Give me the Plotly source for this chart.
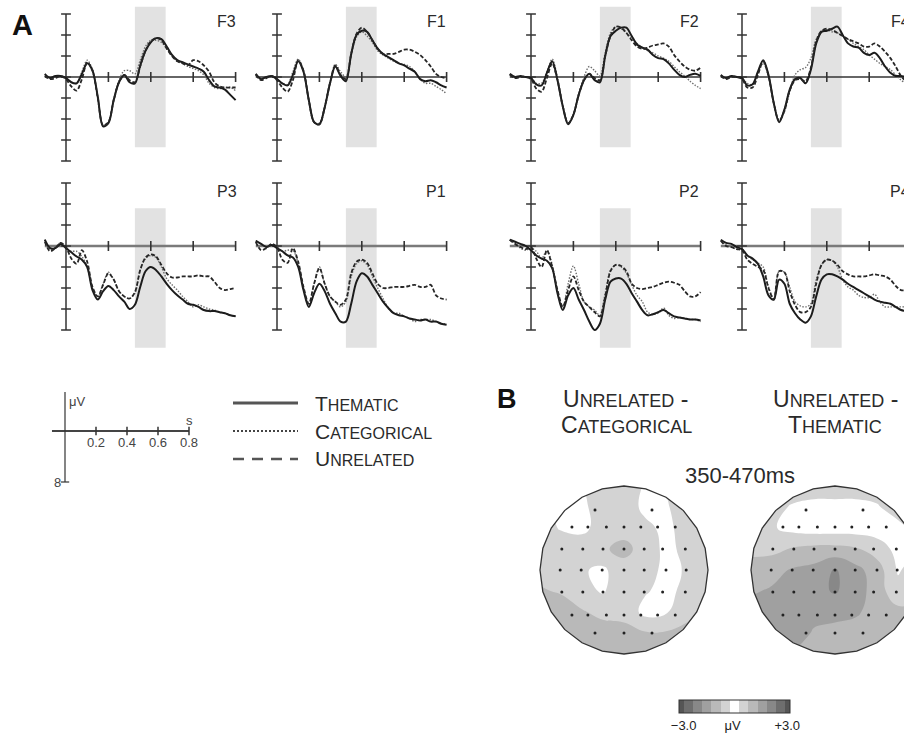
import numpy as np
import plotly.graph_objects as go

W, H = 904, 741
FONT = "Liberation Sans, Arial, Helvetica, sans-serif"

# ---------------- data ----------------
TIME_S = [-0.1, -0.075, -0.05, -0.025, 0.0, 0.025, 0.05, 0.075, 0.1, 0.125, 0.15, 0.175,
          0.2, 0.225, 0.25, 0.275, 0.3, 0.325, 0.35, 0.375, 0.4, 0.425, 0.45, 0.475, 0.5,
          0.525, 0.55, 0.575, 0.6, 0.625, 0.65, 0.675, 0.7, 0.725, 0.75, 0.775, 0.8]

# amplitudes in microvolts (negative plotted upward)
F3_THEMATIC = [-0.3,0.1,-0.1,-0.1,0.1,0.5,0.6,-0.3,-1.3,-0.6,1.9,4.7,4.4,2.2,0.5,-0.2,0.5,0.6,-1.1,-2.5,-3.3,-3.7,-3.6,-2.9,-2.1,-1.6,-1.4,-1.2,-1.0,-0.8,-0.5,0.3,0.9,1.0,1.2,1.7,2.2]
F3_CATEGORICAL = [-0.2,0.1,-0.1,-0.1,0.1,0.5,0.6,-0.5,-1.6,-0.7,1.9,4.6,4.3,2.2,0.3,-0.6,-0.6,-0.3,-1.6,-2.9,-3.5,-3.5,-3.3,-2.7,-2.0,-1.5,-1.3,-1.0,-0.8,-0.6,-0.2,0.6,1.0,1.1,1.0,1.0,1.3]
F3_UNRELATED = [-0.1,0.2,0.1,-0.1,0.2,0.9,1.3,0.2,-1.4,-0.6,2.0,4.6,4.3,2.2,0.5,-0.2,0.3,0.5,-1.0,-2.5,-3.4,-3.7,-3.5,-2.7,-2.0,-1.5,-1.3,-1.1,-1.6,-1.5,-1.1,-0.5,0.5,0.9,1.0,1.0,1.0]

F1_THEMATIC = [-0.3,0.2,0.0,-0.1,0.2,0.6,0.8,-0.2,-1.5,-0.5,2.2,4.3,4.5,2.9,0.6,-1.0,-0.1,0.4,-2.2,-4.0,-4.4,-4.3,-3.5,-2.7,-2.2,-1.9,-1.6,-1.3,-1.1,-0.8,-0.5,0.2,0.4,0.3,0.5,0.8,1.0]
F1_CATEGORICAL = [-0.3,0.2,0.0,-0.1,0.2,0.6,0.7,-0.5,-1.7,-0.6,2.2,4.3,4.4,2.8,0.5,-1.2,-0.5,0.0,-2.1,-3.8,-4.3,-3.9,-3.3,-2.5,-2.1,-1.8,-1.5,-1.3,-1.2,-1.0,-0.5,0.2,0.6,0.6,0.9,1.2,1.6]
F1_UNRELATED = [-0.2,0.3,0.1,-0.1,0.3,1.0,1.4,0.3,-1.6,-0.6,2.2,4.3,4.5,2.9,0.6,-1.1,-0.2,0.2,-2.2,-4.1,-4.7,-4.3,-3.5,-2.7,-2.2,-2.2,-2.2,-2.4,-2.6,-2.6,-2.4,-2.1,-1.6,-1.0,-0.3,0.0,0.1]

F2_THEMATIC = [-0.3,0.0,-0.1,0.0,0.1,0.7,0.8,-0.4,-1.5,0.3,2.8,4.5,3.6,1.7,0.3,-0.3,0.3,0.5,-2.0,-3.9,-4.4,-4.7,-4.7,-3.9,-3.1,-2.8,-2.6,-2.1,-1.8,-1.7,-1.3,-0.7,-0.2,0.0,-0.2,-0.3,-0.1]
F2_CATEGORICAL = [-0.3,0.1,-0.1,0.0,0.1,0.6,0.6,-0.5,-1.7,0.1,2.7,4.4,3.5,1.6,0.0,-1.0,-0.6,-0.1,-2.3,-4.2,-4.8,-4.6,-4.2,-3.7,-3.2,-2.8,-2.5,-2.3,-2.0,-1.8,-1.5,-1.0,-0.5,-0.1,0.4,0.8,1.1]
F2_UNRELATED = [-0.2,0.1,0.0,0.0,0.2,1.1,1.4,0.1,-1.3,0.3,2.8,4.4,3.6,1.7,0.3,-0.3,0.1,0.3,-2.0,-3.9,-4.8,-4.7,-4.2,-3.5,-2.9,-2.7,-2.8,-3.0,-3.1,-3.2,-2.9,-2.1,-1.5,-1.0,-0.7,-0.6,-0.9]

F4_THEMATIC = [-0.2,0.1,-0.1,0.0,0.1,0.8,0.7,-0.5,-1.6,-0.2,2.5,4.3,3.1,1.2,0.2,0.1,0.6,-0.7,-3.2,-4.3,-4.4,-4.6,-4.8,-4.0,-3.2,-2.9,-2.8,-2.3,-2.1,-2.3,-1.8,-1.0,-0.4,-0.1,-0.1,0.0,0.0]
F4_CATEGORICAL = [-0.2,0.1,-0.1,0.0,0.1,0.6,0.7,-0.4,-1.3,-0.1,2.5,4.1,3.3,1.4,-0.2,-0.7,-0.9,-1.8,-3.6,-4.3,-4.5,-4.3,-4.2,-3.9,-3.6,-3.2,-2.9,-2.6,-2.1,-1.7,-1.3,-1.0,-0.7,-0.2,0.3,0.6,0.7]
F4_UNRELATED = [-0.1,0.2,0.0,0.0,0.2,1.0,1.0,-0.2,-1.5,-0.1,2.5,4.2,3.2,1.3,0.3,0.2,0.4,-0.9,-3.4,-4.4,-4.6,-4.5,-4.2,-3.9,-3.6,-3.4,-3.2,-2.9,-2.9,-3.2,-2.9,-2.4,-1.8,-1.0,-0.1,0.4,0.6]

P3_THEMATIC = [-0.6,0.2,0.2,-0.2,0.2,0.6,1.0,1.3,2.0,4.2,5.1,4.3,3.8,4.2,4.8,5.3,6.0,5.6,3.9,2.4,2.0,2.3,2.9,3.6,4.2,4.7,5.1,5.5,5.6,5.8,6.1,6.2,6.2,6.3,6.4,6.6,6.7]
P3_CATEGORICAL = [-0.6,0.3,0.1,-0.3,0.2,0.5,0.5,1.0,2.0,4.0,4.8,3.6,2.5,3.2,4.3,4.8,5.0,4.5,2.3,1.2,0.9,1.1,2.0,3.1,3.7,4.2,4.8,5.3,5.8,5.6,5.8,6.0,6.1,6.3,6.4,6.6,6.7]
P3_UNRELATED = [-0.4,0.5,0.2,-0.3,0.1,1.2,1.7,0.4,1.5,3.9,4.8,3.7,2.6,3.2,4.3,4.8,5.0,4.4,2.3,1.1,0.8,1.0,1.8,2.6,3.0,3.0,2.9,2.9,2.9,2.8,2.9,2.9,3.4,4.0,4.2,4.1,4.0]

P1_THEMATIC = [-0.5,-0.2,0.1,-0.1,0.2,0.5,0.9,1.1,2.0,4.2,5.8,4.5,3.6,4.3,5.5,6.4,7.2,7.2,5.5,3.4,2.6,2.9,3.7,4.5,5.3,5.9,6.4,6.6,6.7,6.9,7.0,7.1,7.0,7.2,7.2,7.4,7.5]
P1_CATEGORICAL = [-0.5,-0.2,0.1,-0.1,0.1,0.5,0.4,0.4,1.7,4.0,5.6,3.6,2.0,3.6,4.8,5.3,5.8,5.3,2.9,1.7,1.4,1.8,2.9,4.0,5.0,5.9,6.4,6.4,6.7,6.9,7.2,7.0,7.0,7.0,7.2,7.4,7.4]
P1_UNRELATED = [-0.4,0.4,0.2,-0.2,0.1,1.3,1.6,0.2,1.5,3.9,5.5,3.6,2.1,3.6,4.8,5.3,5.6,5.1,2.6,1.5,1.3,1.6,2.6,3.6,4.0,4.0,3.9,3.9,3.9,3.8,3.7,3.9,3.9,3.7,4.7,5.0,5.1]

P2_THEMATIC = [-0.6,-0.4,-0.2,0.0,0.4,0.9,1.2,1.4,2.1,4.5,6.1,4.7,4.0,5.1,6.1,7.2,8.0,7.4,5.1,3.4,3.1,3.1,3.6,4.5,5.3,6.1,6.6,6.5,6.3,6.1,6.4,6.7,6.8,6.9,7.0,7.0,7.1]
P2_CATEGORICAL = [-0.6,-0.3,0.2,0.4,0.2,0.5,1.2,0.4,1.8,4.3,5.9,3.6,1.9,3.6,5.3,5.8,6.1,6.6,4.5,2.3,1.8,2.0,2.6,3.7,4.7,5.3,6.3,6.5,6.4,5.9,6.6,6.9,6.8,6.9,7.0,7.0,7.2]
P2_UNRELATED = [-0.6,-0.2,0.1,0.3,0.1,1.2,2.0,0.4,2.0,4.2,5.8,4.2,2.9,4.2,5.3,5.8,6.3,6.7,4.8,2.4,1.8,1.9,2.4,3.6,4.0,4.1,4.0,3.9,3.7,3.5,3.4,3.5,3.7,4.3,4.8,4.8,4.4]

P4_THEMATIC = [-0.6,-0.3,-0.2,0.1,0.3,0.9,1.2,1.7,2.9,4.7,5.1,3.2,3.6,5.5,6.4,7.0,7.3,6.7,4.8,3.2,2.7,2.7,2.9,3.2,3.6,3.9,4.2,4.5,4.8,5.1,5.3,5.4,5.5,5.8,6.1,6.2,6.2]
P4_CATEGORICAL = [-0.5,-0.1,0.1,0.3,0.3,0.9,1.3,1.6,2.0,3.9,5.0,2.4,2.5,3.9,5.3,5.7,5.8,5.5,3.2,1.8,1.3,1.4,2.0,3.2,3.9,4.2,4.7,4.9,4.9,4.6,5.3,5.8,5.8,5.8,5.8,5.8,5.8]
P4_UNRELATED = [-0.5,0.0,0.1,0.3,0.4,1.3,1.7,2.0,2.3,4.0,5.1,2.4,2.5,4.3,5.6,6.3,6.3,5.8,3.6,1.8,1.3,1.4,1.8,2.4,2.7,2.9,2.9,2.9,2.8,2.7,2.8,2.9,3.2,3.8,4.2,4.2,4.2]

ELECTRODES = ["F3", "F1", "F2", "F4", "P3", "P1", "P2", "P4"]
CONDITIONS = ["Thematic", "Categorical", "Unrelated"]
X_TICKS = [0.2, 0.4, 0.6, 0.8]
Y_TICKS = [-6, -4, -2, 0, 2, 4, 6, 8]
BAND_S = [0.325, 0.47]          # analysis window shown as grey band
BAND_UV_FRONT = [-6.7, 6.7]
BAND_UV_POST = [-3.6, 9.7]

SCALE_T_TICKS = [0.2, 0.4, 0.6, 0.8]
SCALE_T_LABELS = ["0.2", "0.4", "0.6", "0.8"]
SCALE_T_START = -0.084
SCALE_UV_TOP = -6.1
SCALE_UV_BOTTOM = 8

# topographic maps: difference values (µV) on a 9x9 grid, rows top (front) -> bottom (back)
MAP_GRID = [-1.0, -0.75, -0.5, -0.25, 0.0, 0.25, 0.5, 0.75, 1.0]
MAP_UNREL_MINUS_CATEG = [
    [-0.5, -0.4, -0.3, -0.4, -0.6, -0.2, -0.3, -0.5, -0.6],
    [-0.4, -0.2, -0.1, -0.6, -0.6, -0.1, -0.2, -0.5, -0.6],
    [-0.5, -0.2, -0.1, -0.5, -0.6, -0.4, -0.1, -0.5, -0.6],
    [-0.6, -0.6, -0.6, -0.7, -0.86, -0.6, -0.1, -0.4, -0.6],
    [-0.6, -0.6, -0.3, -0.15, -0.6, -0.5, -0.1, -0.3, -0.5],
    [-0.8, -0.7, -0.4, -0.2, -0.6, -0.3, -0.1, -0.4, -0.6],
    [-1.0, -1.0, -0.8, -0.6, -0.6, -0.1, -0.2, -0.6, -0.8],
    [-1.1, -1.1, -1.1, -1.0, -0.9, -0.8, -0.8, -0.9, -0.9],
    [-1.1, -1.1, -1.1, -1.1, -1.0, -1.0, -1.0, -1.0, -1.0],
]
MAP_UNREL_MINUS_THEM = [
    [-0.5, -0.5, -0.5, -0.5, -0.5, -0.5, -0.5, -0.6, -0.6],
    [-0.5, -0.4, -0.2, -0.1, -0.1, -0.1, -0.2, -0.5, -0.7],
    [-0.6, -0.3, -0.1, 0.0, 0.0, 0.0, 0.0, -0.1, -0.5],
    [-0.6, -0.6, -0.8, -0.9, -0.9, -0.8, -0.5, -0.1, -0.3],
    [-1.0, -1.1, -1.3, -1.4, -1.8, -1.4, -1.0, -0.2, -0.5],
    [-1.2, -1.3, -1.4, -1.6, -1.8, -1.5, -1.0, -0.4, -0.6],
    [-1.4, -1.6, -1.6, -1.4, -1.4, -1.3, -1.1, -0.9, -0.9],
    [-1.3, -1.5, -1.5, -1.2, -1.1, -1.1, -1.0, -0.9, -0.9],
    [-1.2, -1.3, -1.2, -1.1, -1.0, -1.0, -1.0, -0.9, -0.9],
]
ELEC_X = [-0.345, 0.333,
          -0.62, -0.43, -0.21, 0.0, 0.2, 0.4, 0.61,
          -0.74, -0.49, -0.25, 0.0, 0.24, 0.46, 0.73,
          -0.76, -0.51, -0.26, 0.0, 0.24, 0.5, 0.74,
          -0.74, -0.49, -0.25, 0.0, 0.24, 0.46, 0.73,
          -0.62, -0.43, -0.21, 0.0, 0.2, 0.4, 0.61,
          -0.345, 0.0, 0.333]
ELEC_Y = [0.714] * 2 + [0.512] * 7 + [0.25] * 7 + [0.0] * 7 + [-0.262] * 7 + [-0.536] * 7 + [-0.75] * 3
CBAR_TICKVALS = [-2.75, -0.1, 2.85]
CBAR_TICKTEXT = ["\u22123.0", "\u03bcV", "+3.0"]
MAP_TITLES = [("Unrelated -", "Categorical"), ("Unrelated -", "Thematic")]
WINDOW_LABEL = "350-470ms"

ERP = {
    "F3": (F3_THEMATIC, F3_CATEGORICAL, F3_UNRELATED),
    "F1": (F1_THEMATIC, F1_CATEGORICAL, F1_UNRELATED),
    "F2": (F2_THEMATIC, F2_CATEGORICAL, F2_UNRELATED),
    "F4": (F4_THEMATIC, F4_CATEGORICAL, F4_UNRELATED),
    "P3": (P3_THEMATIC, P3_CATEGORICAL, P3_UNRELATED),
    "P1": (P1_THEMATIC, P1_CATEGORICAL, P1_UNRELATED),
    "P2": (P2_THEMATIC, P2_CATEGORICAL, P2_UNRELATED),
    "P4": (P4_THEMATIC, P4_CATEGORICAL, P4_UNRELATED),
}

# ---------------- styling / layout geometry ----------------
STYLE = {
    "Thematic": dict(color="#1c1c1c", width=2.0, dash="solid"),
    "Categorical": dict(color="#6e6e6e", width=1.4, dash="1.5px,1.5px"),
    "Unrelated": dict(color="#262626", width=1.8, dash="4px,2px"),
}
DRAW_ORDER = ["Categorical", "Thematic", "Unrelated"]
LEGEND_KEY = {
    "Thematic": dict(color="#555", width=3, dash="solid"),
    "Categorical": dict(color="#444", width=2, dash="2px,2px"),
    "Unrelated": dict(color="#555", width=2.5, dash="11px,8px"),
}

COL_ZERO_PX = [66, 277, 531, 742]
ROW_ZERO_PX = [77, 246]
ROW_DOM_PX = [(3, 168), (172, 352)]
PX_PER_S = 212.0
PX_PER_UV = 10.5


def fx(px):
    return px / W


def fy(py):
    return 1 - py / H


fig = go.Figure()
layout_axes = {}
shapes = []
annotations = []


def add_axes(n, xdom_px, ydom_px, xr, yr):
    kx = "xaxis" if n == 1 else f"xaxis{n}"
    ky = "yaxis" if n == 1 else f"yaxis{n}"
    xa = "x" if n == 1 else f"x{n}"
    ya = "y" if n == 1 else f"y{n}"
    layout_axes[kx] = dict(domain=[fx(xdom_px[0]), fx(xdom_px[1])], range=xr, visible=False,
                           anchor=ya, fixedrange=True)
    layout_axes[ky] = dict(domain=[fy(ydom_px[1]), fy(ydom_px[0])], range=yr, visible=False,
                           anchor=xa, fixedrange=True)
    return xa, ya


def ann(text, xpx, ypx, size, bold=False, color="#2a2a2a", xanchor="center", yanchor="middle"):
    annotations.append(dict(text=f"<b>{text}</b>" if bold else text, x=fx(xpx), y=fy(ypx),
                            xref="paper", yref="paper", xanchor=xanchor, yanchor=yanchor,
                            showarrow=False, font=dict(family=FONT, size=size, color=color)))


def smallcaps(word, small):
    word = word.upper()
    return word[0] + f"<span style='font-size:{small}px'>{word[1:]}</span>"


# ---------------- ERP panels ----------------
for i, name in enumerate(ELECTRODES):
    r, c = divmod(i, 4)
    zx = COL_ZERO_PX[c]
    zy = ROW_ZERO_PX[r]
    x0p = zx - 0.125 * PX_PER_S
    x1p = min(W, zx + 0.825 * PX_PER_S)
    top, bot = ROW_DOM_PX[r]
    xr = [(x0p - zx) / PX_PER_S, (x1p - zx) / PX_PER_S]
    yr = [(bot - zy) / PX_PER_UV, (top - zy) / PX_PER_UV]
    xa, ya = add_axes(i + 1, (x0p, x1p), (top, bot), xr, yr)

    band = BAND_UV_FRONT if r == 0 else BAND_UV_POST
    shapes.append(dict(type="rect", xref=xa, yref=ya, x0=BAND_S[0], x1=BAND_S[1],
                       y0=band[0], y1=band[1], fillcolor="#e2e2e2", line=dict(width=0),
                       layer="below"))

    xcol = "#333" if r == 0 else "#7a7a7a"
    xw = 1.6 if r == 0 else 2.6
    common = dict(xaxis=xa, yaxis=ya, showlegend=False, hoverinfo="skip")
    fig.add_trace(go.Scatter(x=[TIME_S[0], TIME_S[-1]], y=[0, 0], mode="lines",
                             line=dict(color=xcol, width=xw), **common))
    fig.add_trace(go.Scatter(x=X_TICKS, y=[0] * len(X_TICKS), mode="markers",
                             marker=dict(symbol="line-ns", size=7,
                                         line=dict(color="#333", width=1.6)), **common))
    fig.add_trace(go.Scatter(x=[0, 0], y=[Y_TICKS[0], Y_TICKS[-1]], mode="lines",
                             line=dict(color="#333", width=1.5), **common))
    fig.add_trace(go.Scatter(x=[0] * len(Y_TICKS), y=Y_TICKS, mode="markers",
                             marker=dict(symbol="line-ew", size=7,
                                         line=dict(color="#333", width=1.5)), **common))

    series = dict(zip(CONDITIONS, ERP[name]))
    for cond in DRAW_ORDER:
        st = STYLE[cond]
        fig.add_trace(go.Scatter(x=TIME_S, y=series[cond], mode="lines", name=cond,
                                 line=dict(color=st["color"], width=st["width"],
                                           dash=st["dash"], shape="spline", smoothing=0.9),
                                 **common))

    label_x = [227, 436, 689, 900][c]
    label_y = [22, 191][r]
    ann(name, label_x, label_y, 16, color="#2a2a2a")

ann("A", 22, 25, 29, bold=True, color="#111")

# ---------------- scale legend (axes key) ----------------
S_ZX, S_ZY, S_PPS, S_PPUV = 65, 431, 155.0, 6.375
sx0, sx1, sy0, sy1 = 45, 200, 385, 490
xa, ya = add_axes(9, (sx0, sx1), (sy0, sy1),
                  [(sx0 - S_ZX) / S_PPS, (sx1 - S_ZX) / S_PPS],
                  [(sy1 - S_ZY) / S_PPUV, (sy0 - S_ZY) / S_PPUV])
common = dict(xaxis=xa, yaxis=ya, showlegend=False, hoverinfo="skip")
fig.add_trace(go.Scatter(x=[SCALE_T_START, SCALE_T_TICKS[-1]], y=[0, 0], mode="lines",
                         line=dict(color="#444", width=2.2), **common))
fig.add_trace(go.Scatter(x=SCALE_T_TICKS, y=[0] * len(SCALE_T_TICKS), mode="markers",
                         marker=dict(symbol="line-ns", size=6, line=dict(color="#333", width=1.5)),
                         **common))
fig.add_trace(go.Scatter(x=[0, 0], y=[SCALE_UV_TOP, SCALE_UV_BOTTOM], mode="lines",
                         line=dict(color="#333", width=1.2), **common))
fig.add_trace(go.Scatter(x=[0], y=[SCALE_UV_BOTTOM], mode="markers",
                         marker=dict(symbol="line-ew", size=6, line=dict(color="#333", width=1.2)),
                         **common))
for t, lab in zip(SCALE_T_TICKS, SCALE_T_LABELS):
    annotations.append(dict(text=lab, x=t, y=0, xref=xa, yref=ya, xanchor="center",
                            yanchor="top", yshift=-2, showarrow=False,
                            font=dict(family=FONT, size=13, color="#444")))
annotations.append(dict(text="s", x=SCALE_T_TICKS[-1], y=0, xref=xa, yref=ya, xanchor="center",
                        yanchor="bottom", yshift=1, showarrow=False,
                        font=dict(family=FONT, size=13, color="#444")))
annotations.append(dict(text="\u03bcV", x=0, y=SCALE_UV_TOP, xref=xa, yref=ya, xanchor="left",
                        yanchor="top", xshift=2, showarrow=False,
                        font=dict(family=FONT, size=13, color="#444")))
annotations.append(dict(text=str(SCALE_UV_BOTTOM), x=0, y=SCALE_UV_BOTTOM, xref=xa, yref=ya,
                        xanchor="right", yanchor="middle", xshift=-2, showarrow=False,
                        font=dict(family=FONT, size=13, color="#444")))

# ---------------- line legend ----------------
for k, cond in enumerate(CONDITIONS):
    ypx = [403, 431, 459][k]
    ks = LEGEND_KEY[cond]
    shapes.append(dict(type="line", xref="paper", yref="paper", x0=fx(233), x1=fx(298),
                       y0=fy(ypx), y1=fy(ypx),
                       line=dict(color=ks["color"], width=ks["width"], dash=ks["dash"])))
    ann(smallcaps(cond, 16), 313, ypx, 21, xanchor="left", color="#2a2a2a")

# ---------------- topographic maps ----------------
TOPO_SCALE = [
    [0.0, "#555555"], [1 / 12, "#6e6e6e"], [2 / 12, "#888888"], [3 / 12, "#a0a0a0"],
    [4 / 12, "#b9b9b9"], [5 / 12, "#d3d3d3"], [6 / 12, "#ffffff"], [7 / 12, "#d3d3d3"],
    [8 / 12, "#b9b9b9"], [9 / 12, "#a0a0a0"], [10 / 12, "#888888"], [11 / 12, "#6e6e6e"],
    [1.0, "#555555"],
]
R_PX = 84.0
PAD = 89.0
ang = np.linspace(0, 2 * np.pi, 24, endpoint=False) + np.pi / 2
poly = [(float(np.cos(a)), float(np.sin(a))) for a in ang]
poly_path = "M " + " L ".join(f"{x:.4f},{y:.4f}" for x, y in poly) + " Z"
mask_path = "M -4,-4 L -4,4 L 4,4 L 4,-4 Z " + poly_path

for m, (center_x, zvals) in enumerate([(624, MAP_UNREL_MINUS_CATEG), (835, MAP_UNREL_MINUS_THEM)]):
    cy = 570
    x0p = center_x - PAD
    x1p = min(W, center_x + PAD)
    xa, ya = add_axes(10 + m, (x0p, x1p), (cy - PAD, cy + PAD),
                      [(x0p - center_x) / R_PX, (x1p - center_x) / R_PX],
                      [-PAD / R_PX, PAD / R_PX])
    cb = dict(orientation="h", x=fx(734.5), xanchor="center", y=fy(700), yanchor="top",
              ypad=0, xpad=0, len=111, lenmode="pixels", thickness=13,
              thicknessmode="pixels", outlinecolor="#333", outlinewidth=1,
              tickmode="array", tickvals=CBAR_TICKVALS, ticktext=CBAR_TICKTEXT, ticks="",
              tickfont=dict(family=FONT, size=13, color="#222"))
    fig.add_trace(go.Contour(x=MAP_GRID, y=MAP_GRID, z=zvals[::-1], xaxis=xa, yaxis=ya,
                             colorscale=TOPO_SCALE, autocontour=False,
                             contours=dict(start=-2.75, end=2.75, size=0.5, coloring="fill",
                                           showlines=False),
                             line=dict(width=0, smoothing=1.3),
                             showscale=(m == 0), colorbar=cb if m == 0 else None,
                             hoverinfo="skip"))
    fig.add_trace(go.Scatter(x=ELEC_X, y=ELEC_Y, mode="markers",
                             marker=dict(size=3, color="#222"), xaxis=xa, yaxis=ya,
                             showlegend=False, hoverinfo="skip"))
    shapes.append(dict(type="path", xref=xa, yref=ya, path=mask_path, fillcolor="white",
                       line=dict(width=0), layer="above"))
    shapes.append(dict(type="path", xref=xa, yref=ya, path=poly_path,
                       fillcolor="rgba(0,0,0,0)", line=dict(color="#333", width=1.3),
                       layer="above"))
    t1, t2 = MAP_TITLES[m]
    word, rest = t1.split(" ", 1)
    ann(smallcaps(word, 18) + " " + rest, [625, 835][m], 399, 23)
    ann(smallcaps(t2, 18), [626, 835][m], 425, 23)

ann("B", 507, 399, 27, bold=True, color="#111")
ann(WINDOW_LABEL, 740, 476, 22, color="#2a2a2a")

fig.update_layout(
    width=W, height=H, margin=dict(l=0, r=0, t=0, b=0),
    paper_bgcolor="white", plot_bgcolor="rgba(0,0,0,0)",
    showlegend=False, hovermode=False,
    font=dict(family=FONT, color="#222"),
    shapes=shapes, annotations=annotations,
    **layout_axes,
)

fig.write_html("out.html",
               config={"displayModeBar": False, "staticPlot": True},
               post_script="document.body.style.margin='0px';"
                           "document.body.style.overflow='hidden';")
